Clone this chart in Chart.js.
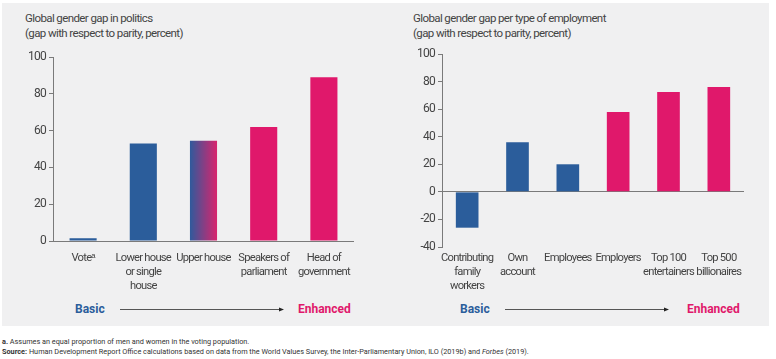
<!DOCTYPE html>
<html>
<head>
<meta charset="utf-8">
<script src="https://cdn.jsdelivr.net/npm/chart.js@4.4.1/dist/chart.umd.min.js"></script>
<style>
  body { margin: 0; background: #fff; font-family: Roboto, sans-serif; }
  #wrap { position: relative; width: 776px; height: 359px; }
  #panel { position: absolute; left: 2px; top: 3px; width: 767px; height: 323px; background: #f0f0f1; }
  .title { position: absolute; font-size: 11.5px; line-height: 15px; color: #444; letter-spacing: -0.6px; }
  .tier { position: absolute; font-size: 12px; font-weight: bold; top: 302px; }
  .basic { color: #2b5d9b; }
  .enh { color: #e0186b; }
  canvas { position: absolute; }
  svg { position: absolute; }
  .note { position: absolute; left: 2px; font-size: 7.3px; color: #333; white-space: nowrap; }
</style>
</head>
<body>
<div id="wrap">
  <div id="panel"></div>
  <div class="title" style="left:25px; top:11px;">Global gender gap in politics<br>(gap with respect to parity, percent)</div>
  <div class="title" style="left:413px; top:11px;">Global gender gap per type of employment<br>(gap with respect to parity, percent)</div>
  <canvas id="politics" style="left:0; top:45px;" width="380" height="255"></canvas>
  <canvas id="employment" style="left:388px; top:40px;" width="388" height="260"></canvas>
  <div class="tier basic" style="left:75px;">Basic</div>
  <div class="tier enh" style="left:298px;">Enhanced</div>
  <div class="tier basic" style="left:460px;">Basic</div>
  <div class="tier enh" style="left:687px;">Enhanced</div>
  <svg style="left:0; top:300px;" width="776" height="20">
    <line x1="120" y1="9.5" x2="280" y2="9.5" stroke="#555" stroke-width="1"/>
    <polygon points="279,7.5 284,9.5 279,11.5" fill="#222"/>
    <line x1="505" y1="9.5" x2="665" y2="9.5" stroke="#555" stroke-width="1"/>
    <polygon points="664,7.5 669,9.5 664,11.5" fill="#222"/>
  </svg>
  <div class="note" style="top:337px;"><b>a.</b> Assumes an equal proportion of men and women in the voting population.</div>
  <div class="note" style="top:347px;"><b>Source:</b> Human Development Report Office calculations based on data from the World Values Survey, the Inter-Parliamentary Union, ILO (2019b) and <i>Forbes</i> (2019).</div>
</div>
<script>
// chart data
const politicsLabels = ['Vote\u1d43', ['Lower house', 'or single', 'house'], 'Upper house', ['Speakers of', 'parliament'], ['Head of', 'government']];
const politicsValues = [1.5, 53, 54.5, 62, 89];
const politicsTier = ['basic', 'basic', 'mixed', 'enhanced', 'enhanced'];

const employmentLabels = [['Contributing', 'family', 'workers'], ['Own', 'account'], 'Employees', 'Employers', ['Top 100', 'entertainers'], ['Top 500', 'billionaires']];
const employmentValues = [-26, 36, 20, 58, 72.5, 76];
const employmentTier = ['basic', 'basic', 'basic', 'enhanced', 'enhanced', 'enhanced'];

const BLUE = '#2b5d9b';
const PINK = '#e0186b';
const FONT = 'Roboto, sans-serif';
const BAR_PCT = 0.45;

// the original uses a narrow typeface, squeeze Roboto a bit
const narrowText = {
    id: 'narrowText',
    beforeDraw: chart => { chart.ctx.letterSpacing = '-0.75px'; }
};

function barColor(tiers) {
    return ctx => {
        const t = tiers[ctx.dataIndex];
        if (t === 'basic') return BLUE;
        if (t === 'enhanced') return PINK;
        // blend bar: blue on the left, pink on the right
        const xs = ctx.chart.scales.x;
        if (!xs || xs.width === undefined) return BLUE;
        const c = xs.getPixelForValue(ctx.dataIndex);
        const hw = xs.width / tiers.length * BAR_PCT / 2;
        const g = ctx.chart.ctx.createLinearGradient(c - hw, 0, c + hw, 0);
        g.addColorStop(0, '#2f5a9c');
        g.addColorStop(1, '#d9246d');
        return g;
    };
}

function makeChart(id, labels, values, tiers, yMin, yMax, yWidth, xHeight, pad, tickPad) {
    new Chart(document.getElementById(id), {
        type: 'bar',
        data: {
            labels: labels,
            datasets: [{
                data: values,
                backgroundColor: barColor(tiers),
                barPercentage: BAR_PCT,
                categoryPercentage: 1,
                borderWidth: 0
            }]
        },
        plugins: [narrowText],
        options: {
            responsive: false,
            animation: false,
            layout: { padding: pad },
            plugins: { legend: { display: false }, tooltip: { enabled: false } },
            scales: {
                x: {
                    offset: true,
                    grid: { display: false, drawTicks: false },
                    border: { display: false },
                    ticks: { color: '#444', font: { family: FONT, size: 11.2, lineHeight: 1.25 }, padding: tickPad, maxRotation: 0, autoSkip: false },
                    afterFit: s => { s.height = xHeight; }
                },
                y: {
                    min: yMin, max: yMax,
                    grid: {
                        color: c => c.tick && c.tick.value === 0 ? '#7a7a7a' : 'rgba(0,0,0,0)',
                        tickColor: '#7a7a7a',
                        tickLength: 4,
                        lineWidth: 1
                    },
                    border: { display: true, color: '#7a7a7a' },
                    ticks: { stepSize: 20, color: '#444', font: { family: FONT, size: 12 }, padding: 3 },
                    afterFit: s => { s.width = yWidth; }
                }
            }
        }
    });
}

makeChart('politics', politicsLabels, politicsValues, politicsTier, 0, 100, 53, 59, { top: 12, right: 26, left: 0, bottom: 0 }, 10);
makeChart('employment', employmentLabels, employmentValues, employmentTier, -40, 100, 54, 53, { top: 14, right: 32, left: 0, bottom: 0 }, 4);
</script>
</body>
</html>
